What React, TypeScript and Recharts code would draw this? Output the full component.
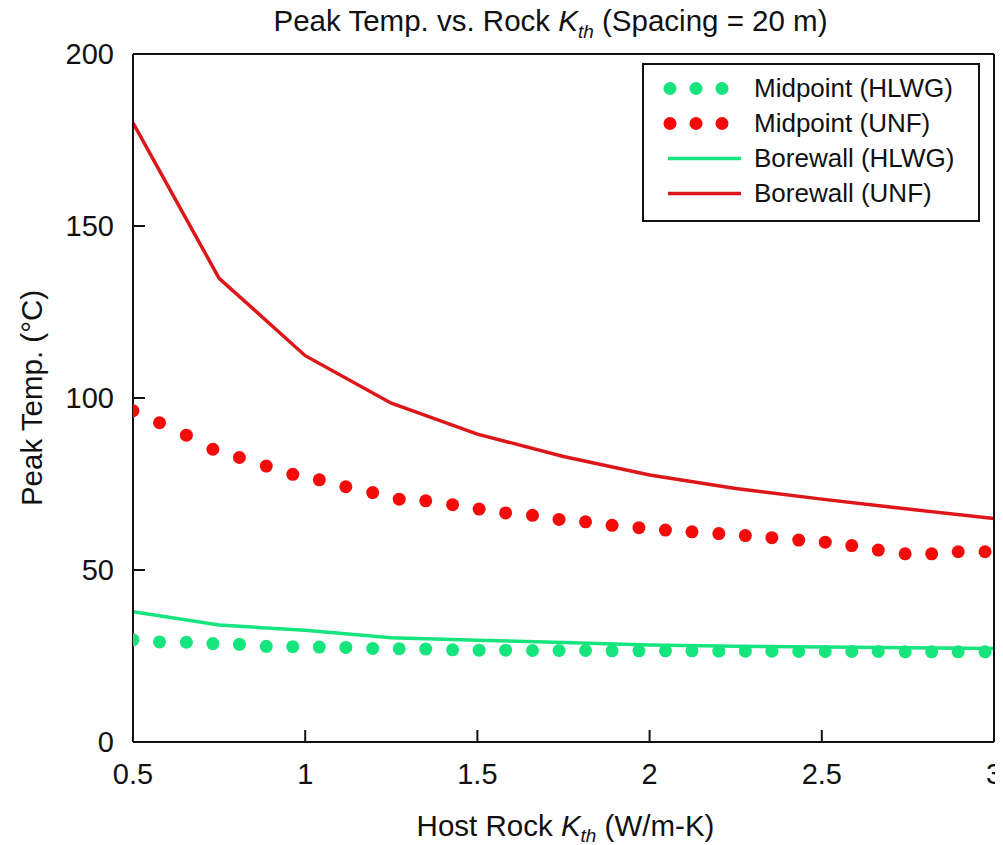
import React from 'react';
import { LineChart, Line, XAxis, YAxis, Label } from 'recharts';

// borewall curves, sampled every 0.25 W/m-K
const kthLine = [0.5, 0.75, 1, 1.25, 1.5, 1.75, 2, 2.25, 2.5, 2.75, 3];
const borewallHLWG = [37.9, 34.0, 32.5, 30.3, 29.6, 28.9, 28.2, 27.8, 27.6, 27.4, 27.2];
const borewallUNF = [180, 134.8, 112.3, 98.5, 89.5, 83.0, 77.6, 73.7, 70.6, 67.7, 65.0];

// midpoint samples
const kthMid = [
  0.5, 0.577, 0.655, 0.732, 0.809, 0.887, 0.964, 1.041, 1.118, 1.196, 1.273,
  1.35, 1.428, 1.505, 1.582, 1.66, 1.737, 1.814, 1.891, 1.969, 2.046, 2.123,
  2.201, 2.278, 2.355, 2.433, 2.51, 2.587, 2.664, 2.742, 2.819, 2.896, 2.974,
];
const midpointHLWG = [
  29.7, 29.1, 29.0, 28.6, 28.4, 27.8, 27.7, 27.6, 27.5, 27.2, 27.1,
  27.0, 26.8, 26.7, 26.7, 26.6, 26.6, 26.6, 26.5, 26.5, 26.5, 26.5,
  26.4, 26.4, 26.4, 26.3, 26.3, 26.3, 26.3, 26.2, 26.2, 26.2, 26.2,
];
const midpointUNF = [
  96.3, 92.8, 89.2, 85.1, 82.7, 80.2, 77.8, 76.2, 74.2, 72.5, 70.6,
  70.1, 69.0, 67.7, 66.6, 65.9, 64.7, 64.0, 63.0, 62.3, 61.6, 61.1,
  60.6, 60.0, 59.4, 58.7, 58.1, 57.1, 55.8, 54.7, 54.7, 55.3, 55.3,
];

const xTicks = [0.5, 1, 1.5, 2, 2.5, 3];
const topTicks = [1, 1.5, 2, 2.5];
const yTicks = [0, 50, 100, 150, 200];

const GREEN = '#16e57e';
const RED = '#dc1619';
const DOT_RED = '#f50a0a';
const narrow = "'Liberation Sans Narrow', 'Liberation Sans', Arial, sans-serif";
const sans = "'Liberation Sans', Arial, sans-serif";

const lineHLWG = kthLine.map((x, i) => ({ x, y: borewallHLWG[i] }));
const lineUNF = kthLine.map((x, i) => ({ x, y: borewallUNF[i] }));
const midHLWG = kthMid.map((x, i) => ({ x, y: midpointHLWG[i] }));
const midUNF = kthMid.map((x, i) => ({ x, y: midpointUNF[i] }));

const legendItems = [
  { name: 'Midpoint (HLWG)', color: GREEN, dotted: true },
  { name: 'Midpoint (UNF)', color: DOT_RED, dotted: true },
  { name: 'Borewall (HLWG)', color: GREEN, dotted: false },
  { name: 'Borewall (UNF)', color: RED, dotted: false },
];

function LegendBox() {
  return (
    <div
      style={{
        position: 'absolute',
        left: 634,
        top: 63,
        border: '2px solid #111',
        background: '#fff',
        width: 338,
        height: 159,
        boxSizing: 'border-box',
        paddingTop: 6,
        fontFamily: sans,
        fontSize: 26,
        color: '#111',
      }}
    >
      {legendItems.map((it) => (
        <div key={it.name} style={{ display: 'flex', alignItems: 'center', height: 35 }}>
          <svg width={110} height={35} style={{ flex: 'none' }}>
            {it.dotted ? (
              [26, 52, 78].map((cx) => <circle key={cx} cx={cx} cy={17.5} r={6.5} fill={it.color} />)
            ) : (
              <line x1={24} x2={97} y1={17.5} y2={17.5} stroke={it.color} strokeWidth={3.5} />
            )}
          </svg>
          <span>{it.name}</span>
        </div>
      ))}
    </div>
  );
}

function Title(props: any) {
  const vb = props.viewBox || {};
  const cx = vb.x + vb.width / 2 - 13;
  return (
    <text x={cx} y={31} textAnchor="middle" fontFamily={narrow} fontSize={29.5} fill="#111">
      <tspan>Peak Temp. vs. Rock </tspan>
      <tspan fontStyle="italic">K</tspan>
      <tspan fontStyle="italic" fontSize={19} dy={7}>th</tspan>
      <tspan dy={-7}> (Spacing = 20 m)</tspan>
    </text>
  );
}

function XTitle(props: any) {
  const vb = props.viewBox || {};
  const cx = vb.x + vb.width / 2 + 2;
  return (
    <text x={cx} y={836} textAnchor="middle" fontFamily={narrow} fontSize={29.5} fill="#111">
      <tspan>Host Rock </tspan>
      <tspan fontStyle="italic">K</tspan>
      <tspan fontStyle="italic" fontSize={19} dy={6}>th</tspan>
      <tspan dy={-6}> (W/m-K)</tspan>
    </text>
  );
}

function YTitle(props: any) {
  const vb = props.viewBox || {};
  const cy = vb.y + vb.height / 2;
  return (
    <text
      x={23}
      y={cy}
      transform={`rotate(-90, 23, ${cy})`}
      textAnchor="middle"
      dominantBaseline="central"
      fontFamily={narrow}
      fontSize={29.5}
      fill="#111"
    >
      Peak Temp. (°C)
    </text>
  );
}

const tickStyle = { fontFamily: narrow, fontSize: 29, fill: '#111' };
const axisLine = { stroke: '#111', strokeWidth: 2 };
const tickLine = { stroke: '#111', strokeWidth: 2 };

export default function App() {
  return (
    <div style={{ position: 'relative', width: 995, height: 845, marginTop: -8 }}>
      <LineChart width={995} height={845} margin={{ top: 53, right: 8, bottom: 0, left: 0 }}>
        <XAxis
          type="number"
          dataKey="x"
          domain={[0.5, 3]}
          ticks={xTicks}
          allowDataOverflow
          height={103}
          tickSize={-12}
          tickMargin={33}
          tick={tickStyle}
          axisLine={axisLine}
          tickLine={tickLine}
        >
          <Label content={XTitle} />
        </XAxis>
        <XAxis
          xAxisId="top"
          orientation="top"
          type="number"
          dataKey="x"
          domain={[0.5, 3]}
          ticks={topTicks}
          allowDataOverflow
          height={1}
          tickSize={-12}
          tick={false}
          axisLine={axisLine}
          tickLine={tickLine}
        >
          <Label content={Title} />
        </XAxis>
        <YAxis
          type="number"
          domain={[0, 200]}
          ticks={yTicks}
          allowDataOverflow
          width={125}
          tickSize={-12}
          tickMargin={31}
          tick={tickStyle}
          axisLine={axisLine}
          tickLine={tickLine}
        >
          <Label content={YTitle} />
        </YAxis>
        <YAxis
          yAxisId="r"
          orientation="right"
          type="number"
          domain={[0, 200]}
          ticks={yTicks}
          allowDataOverflow
          width={1}
          tickSize={-12}
          tick={false}
          axisLine={axisLine}
          tickLine={tickLine}
        />
        {/* invisible series so the frame axes (top / right) get drawn */}
        <Line
          data={lineUNF}
          dataKey="y"
          xAxisId="top"
          yAxisId="r"
          stroke="none"
          dot={false}
          activeDot={false}
          legendType="none"
          isAnimationActive={false}
        />
        <Line
          data={lineHLWG}
          dataKey="y"
          name="Borewall (HLWG)"
          type="linear"
          stroke={GREEN}
          strokeWidth={3.5}
          dot={false}
          activeDot={false}
          isAnimationActive={false}
        />
        <Line
          data={lineUNF}
          dataKey="y"
          name="Borewall (UNF)"
          type="linear"
          stroke={RED}
          strokeWidth={3.5}
          dot={false}
          activeDot={false}
          isAnimationActive={false}
        />
        <Line
          data={midHLWG}
          dataKey="y"
          name="Midpoint (HLWG)"
          stroke="none"
          dot={{ r: 6.5, fill: GREEN, stroke: 'none' }}
          activeDot={false}
          isAnimationActive={false}
        />
        <Line
          data={midUNF}
          dataKey="y"
          name="Midpoint (UNF)"
          stroke="none"
          dot={{ r: 6.5, fill: DOT_RED, stroke: 'none' }}
          activeDot={false}
          isAnimationActive={false}
        />
      </LineChart>
      <LegendBox />
    </div>
  );
}
